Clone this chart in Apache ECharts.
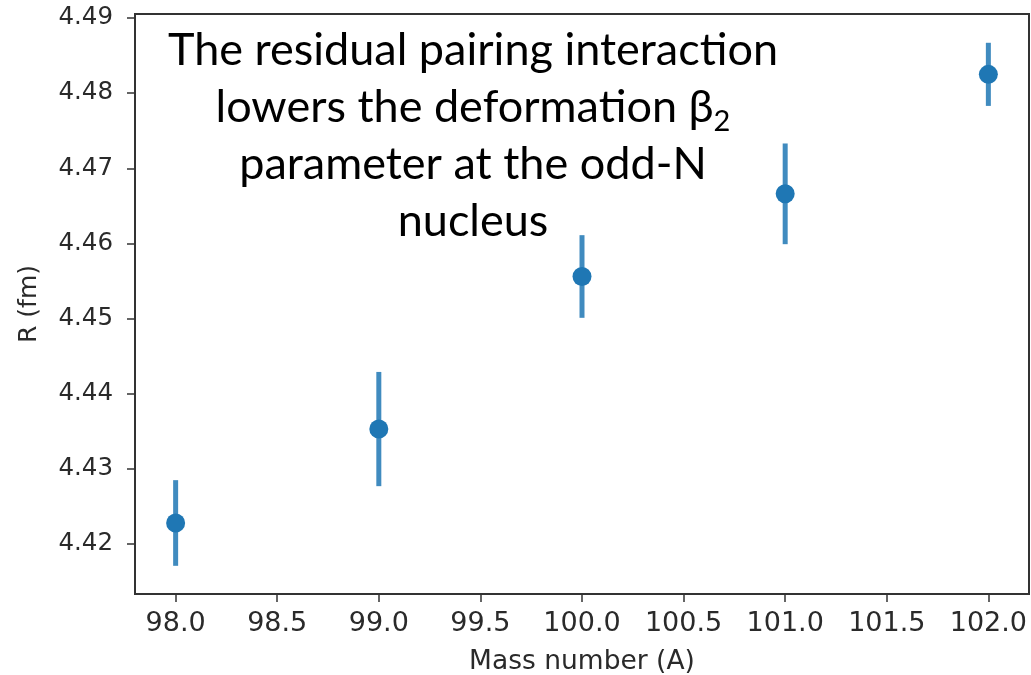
<!DOCTYPE html>
<html>
<head>
<meta charset="utf-8">
<script src="https://cdn.jsdelivr.net/npm/echarts@6/dist/echarts.min.js"></script>
<style>
  html, body { margin: 0; padding: 0; background: #ffffff; }
  #chart { width: 1031px; height: 675px; }
</style>
</head>
<body>
<div id="chart"></div>
<script>
// Mass number of each isotope, its charge radius and the radius uncertainty
const massNumber = [98, 99, 100, 101, 102];
const radius     = [4.4228, 4.4353, 4.4556, 4.4666, 4.4825];
const radiusErr  = [0.0057, 0.0076, 0.0055, 0.0067, 0.0042];

// Tick positions on both axes
const xTicks = [98.0, 98.5, 99.0, 99.5, 100.0, 100.5, 101.0, 101.5, 102.0];
const yTicks = [4.42, 4.43, 4.44, 4.45, 4.46, 4.47, 4.48, 4.49];

const BLUE = '#1f77b4';
const TICK_FONT = 'DejaVu Sans';
const TEXT_COLOR = '#2a2a2a';

const points = massNumber.map((a, i) => [a, radius[i]]);
const bars = massNumber.map((a, i) => [a, radius[i] - radiusErr[i], radius[i] + radiusErr[i]]);

const chart = echarts.init(document.getElementById('chart'), null, { renderer: 'canvas' });

chart.setOption({
  animation: false,
  backgroundColor: '#ffffff',
  grid: {
    left: 135, right: 2, top: 14, bottom: 81,
    outerBoundsMode: 'none', containLabel: false,
    show: true, borderColor: '#333333', borderWidth: 2, backgroundColor: 'transparent'
  },
  title: {
    left: 468, top: 17, textAlign: 'center',
    text: 'The residual pairing interaction\nlowers the deformation β{sub|2}\nparameter at the odd-N\nnucleus',
    textStyle: {
      fontFamily: 'Lato', fontSize: 45, fontWeight: 'normal', color: '#000000',
      lineHeight: 57, align: 'center',
      rich: {
        sub: { fontFamily: 'Lato', fontSize: 29, lineHeight: 57, verticalAlign: 'bottom', padding: [16, 0, 0, 0] }
      }
    }
  },
  xAxis: {
    type: 'value', min: 97.8, max: 102.2,
    name: 'Mass number (A)', nameLocation: 'middle', nameGap: 55,
    nameTextStyle: { fontFamily: TICK_FONT, fontSize: 26.5, color: TEXT_COLOR },
    axisLine: { show: true, lineStyle: { color: '#333333', width: 2 } },
    axisTick: { show: true, length: 8, lineStyle: { color: '#333333', width: 1.5 }, customValues: xTicks },
    axisLabel: {
      fontFamily: TICK_FONT, fontSize: 27, color: TEXT_COLOR, margin: 16,
      customValues: xTicks, formatter: v => v.toFixed(1)
    },
    splitLine: { show: false }
  },
  yAxis: {
    type: 'value', min: 4.41335, max: 4.49053,
    name: 'R (fm)', nameLocation: 'middle', nameGap: 93,
    nameTextStyle: { fontFamily: TICK_FONT, fontSize: 25, color: TEXT_COLOR },
    axisLine: { show: true, lineStyle: { color: '#333333', width: 2 } },
    axisTick: { show: true, length: 8, lineStyle: { color: '#333333', width: 1.5 }, customValues: yTicks },
    axisLabel: {
      fontFamily: TICK_FONT, fontSize: 24.5, color: TEXT_COLOR, margin: 22,
      customValues: yTicks, formatter: v => v.toFixed(2)
    },
    splitLine: { show: false }
  },
  series: [
    {
      // vertical error bars
      type: 'custom',
      data: bars,
      renderItem: function (params, api) {
        const x = api.value(0);
        const lo = api.coord([x, api.value(1)]);
        const hi = api.coord([x, api.value(2)]);
        return {
          type: 'line',
          shape: { x1: lo[0], y1: lo[1], x2: hi[0], y2: hi[1] },
          style: { stroke: BLUE, lineWidth: 5, opacity: 0.85 }
        };
      },
      z: 2
    },
    {
      type: 'scatter',
      data: points,
      symbol: 'circle',
      symbolSize: 19,
      itemStyle: { color: BLUE, opacity: 1 },
      z: 3
    }
  ]
});
</script>
</body>
</html>
